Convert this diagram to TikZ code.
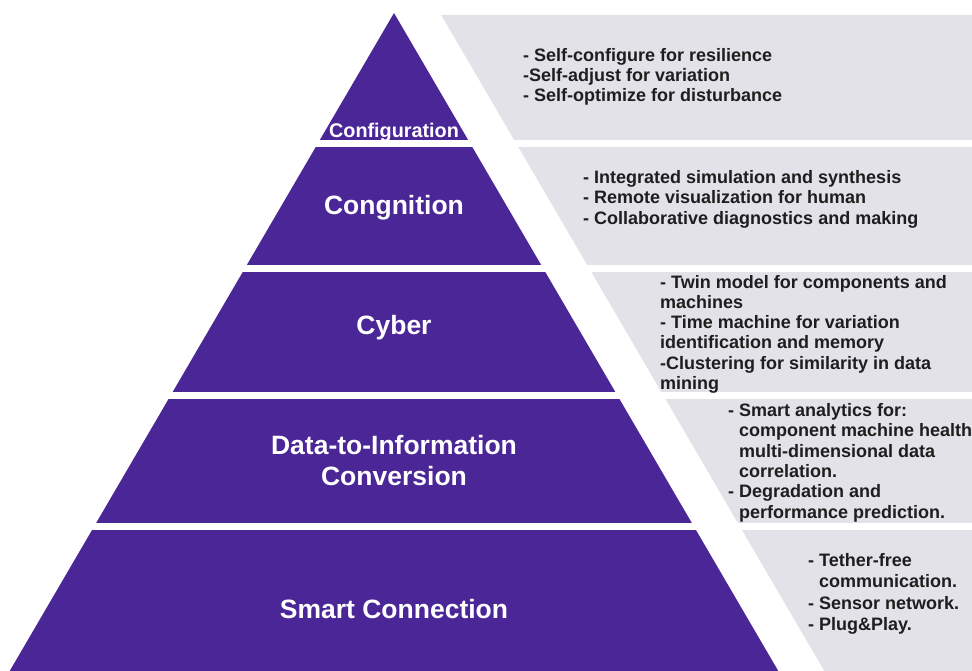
\documentclass[tikz,border=0pt]{standalone}
\usepackage{fontspec}
\setmainfont{Liberation Sans}
\definecolor{pyramid}{RGB}{75,38,151}
\definecolor{panel}{RGB}{227,226,232}
\definecolor{ink}{RGB}{30,30,30}
\begin{document}
\begin{tikzpicture}[x=1pt,y=-1pt,
    level/.style={text=white,font=\bfseries\fontsize{26.5}{31}\selectfont,align=center,inner sep=0pt},
    note/.style={text=ink,font=\bfseries\fontsize{18}{20.3}\selectfont,align=left,anchor=north west,inner sep=0pt}]
  \useasboundingbox (0,0) rectangle (972,671);
  \fill[pyramid] (394,13) -- (778.3,671) -- (9.7,671) -- cycle;
  \fill[panel] (441.2,15) -- (972,15) -- (972,671) -- (824.3,671) -- cycle;
  \foreach \y/\h in {140/7,265/7,392/6.5,523/7}
    \fill[white] (0,\y) rectangle (972,\y+\h);
  \node[level,anchor=base,font=\bfseries\fontsize{19.8}{22}\selectfont] (conf) at (394,137.5) {Configuration};
  \node[level,anchor=base] (cogn) at (394,214.5) {Congnition};
  \node[level,anchor=base] (cyber) at (394,334) {Cyber};
  \node[level] (dtoi) at (394,461) {Data-to-Information\\Conversion};
  \node[level,anchor=base] (smart) at (394,618) {Smart Connection};
  \node[note] (confnote) at (523,48) {- Self-configure for resilience\\-Self-adjust for variation\\- Self-optimize for disturbance};
  \node[note,font=\bfseries\fontsize{18}{20.5}\selectfont] (cognnote) at (583,170) {- Integrated simulation and synthesis\\- Remote visualization for human\\- Collaborative diagnostics and making};
  \node[note,font=\bfseries\fontsize{18}{20.2}\selectfont] (cybernote) at (660,275) {- Twin model for components and\\machines\\- Time machine for variation\\identification and memory\\-Clustering for similarity in data\\mining};
  \node[note,font=\bfseries\fontsize{18}{20.4}\selectfont] (dtoinote) at (728,403) {- Smart analytics for:\\\phantom{- }component machine health;\\\phantom{- }multi-dimensional data\\\phantom{- }correlation.\\- Degradation and\\\phantom{- }performance prediction.};
  \node[note,font=\bfseries\fontsize{18}{21.5}\selectfont] (smartnote) at (808,553) {- Tether-free\\\phantom{- }communication.\\- Sensor network.\\- Plug\&Play.};
\end{tikzpicture}
\end{document}
